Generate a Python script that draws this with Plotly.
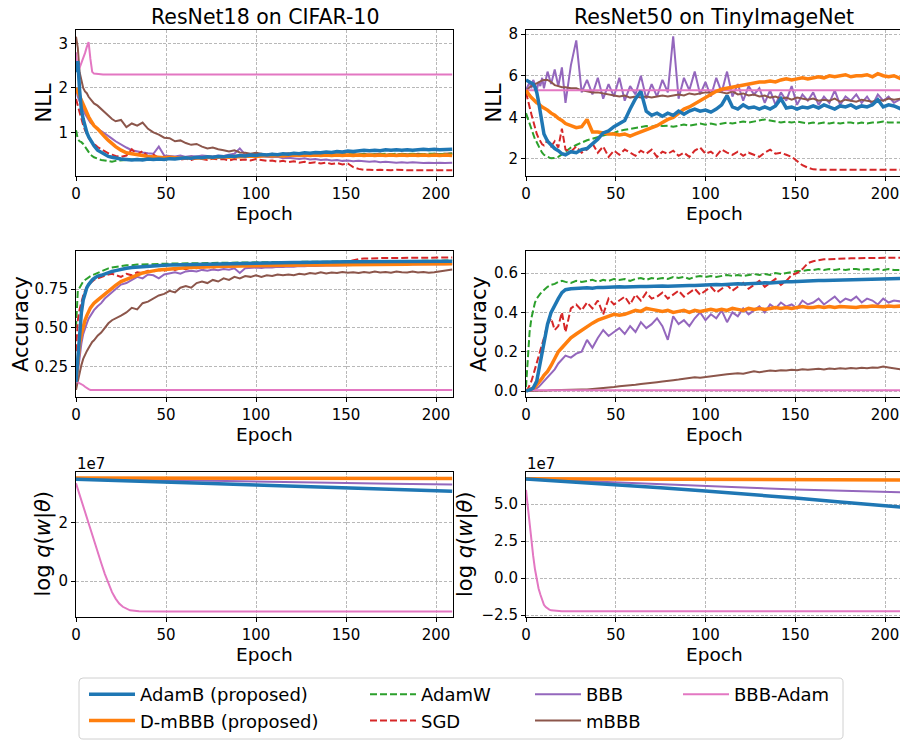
import plotly.graph_objects as go

W, H = 900, 740

# ---------------- data ----------------
epochs = [0, 1, 2, 3, 4, 5, 6, 7, 8, 9, 10,
          12, 14, 16, 18, 20, 22,
          25, 28, 31, 34, 37, 40, 43, 46, 49,
          52, 55, 58, 61, 64, 67, 70, 73, 76,
          79, 82, 85, 88, 91, 94, 97, 100, 103,
          106, 109, 112, 115, 118, 121, 124, 127, 130,
          133, 136, 139, 142, 145, 148, 151, 154, 157,
          160, 163, 166, 169, 172, 175, 178, 181, 184,
          187, 190, 193, 196, 199, 202, 205, 209]

# ResNet18 on CIFAR-10 : NLL
c10_nll_adamb = [2.35, 2.6, 1.95, 1.5, 1.3, 1.12, 1.0, 0.9, 0.82, 0.75, 0.7,
                 0.6, 0.55, 0.5, 0.46, 0.44, 0.42,
                 0.4, 0.39, 0.38, 0.39, 0.38, 0.4, 0.39, 0.4, 0.39,
                 0.41, 0.4, 0.42, 0.43, 0.42, 0.44, 0.43, 0.45, 0.44,
                 0.46, 0.45, 0.47, 0.46, 0.48, 0.47, 0.49, 0.48, 0.5,
                 0.49, 0.51, 0.5, 0.52, 0.51, 0.53, 0.52, 0.54, 0.53,
                 0.55, 0.54, 0.56, 0.55, 0.57, 0.56, 0.58, 0.57, 0.59,
                 0.6, 0.59, 0.6, 0.59, 0.61, 0.6, 0.61, 0.6, 0.61,
                 0.6, 0.61, 0.62, 0.61, 0.62, 0.61, 0.62, 0.62]
c10_nll_dmbbb = [2.0, 1.9, 1.8, 1.73, 1.65, 1.52, 1.43, 1.35, 1.28, 1.2, 1.15,
                 1.08, 0.98, 0.9, 0.82, 0.74, 0.68,
                 0.6, 0.54, 0.52, 0.49, 0.48, 0.46, 0.45, 0.44, 0.43,
                 0.44, 0.43, 0.42, 0.43, 0.42, 0.43, 0.42, 0.44, 0.43,
                 0.44, 0.45, 0.44, 0.46, 0.45, 0.46, 0.47, 0.46, 0.47,
                 0.48, 0.47, 0.48, 0.47, 0.48, 0.49, 0.48, 0.49, 0.48,
                 0.49, 0.48, 0.49, 0.48, 0.49, 0.48, 0.49, 0.48, 0.49,
                 0.48, 0.49, 0.48, 0.49, 0.48, 0.49, 0.48, 0.49, 0.48,
                 0.49, 0.48, 0.49, 0.48, 0.49, 0.48, 0.49, 0.48]
c10_nll_adamw = [1.05, 0.85, 0.8, 0.78, 0.74, 0.68, 0.6, 0.55, 0.5, 0.47, 0.44,
                 0.41, 0.38, 0.37, 0.35, 0.34, 0.36,
                 0.37, 0.38, 0.39, 0.38, 0.4, 0.39, 0.4, 0.41, 0.4,
                 0.41, 0.42, 0.41, 0.43, 0.42, 0.43, 0.44, 0.43, 0.44,
                 0.45, 0.44, 0.45, 0.46, 0.45, 0.46, 0.47, 0.46, 0.47,
                 0.47, 0.48, 0.47, 0.48, 0.48, 0.49, 0.48, 0.49, 0.49,
                 0.49, 0.5, 0.49, 0.5, 0.5, 0.5, 0.51, 0.5, 0.51,
                 0.51, 0.5, 0.51, 0.51, 0.52, 0.51, 0.52, 0.51, 0.52,
                 0.52, 0.51, 0.52, 0.52, 0.52, 0.51, 0.52, 0.52]
c10_nll_sgd = [1.75, 1.6, 1.4, 1.28, 1.16, 1.05, 0.95, 0.88, 0.82, 0.78, 0.74,
               0.67, 0.62, 0.57, 0.53, 0.5, 0.47,
               0.45, 0.48, 0.62, 0.5, 0.58, 0.46, 0.5, 0.43, 0.45,
               0.4, 0.42, 0.39, 0.41, 0.38, 0.42, 0.4, 0.38, 0.41,
               0.39, 0.4, 0.37, 0.4, 0.38, 0.39, 0.37, 0.4, 0.38,
               0.36, 0.37, 0.34, 0.36, 0.33, 0.35, 0.32, 0.34, 0.31,
               0.33, 0.3, 0.32, 0.29, 0.31, 0.28, 0.3, 0.22, 0.18,
               0.16, 0.16, 0.15, 0.16, 0.15, 0.15, 0.16, 0.15, 0.15,
               0.15, 0.15, 0.16, 0.15, 0.15, 0.15, 0.15, 0.15]
c10_nll_bbb = [2.0, 1.8, 1.7, 1.6, 1.5, 1.42, 1.35, 1.28, 1.22, 1.18, 1.14,
               1.08, 1.03, 0.98, 0.92, 0.86, 0.8,
               0.72, 0.66, 0.6, 0.57, 0.55, 0.53, 0.52, 0.68, 0.48,
               0.47, 0.46, 0.48, 0.45, 0.47, 0.46, 0.48, 0.47, 0.46,
               0.48, 0.47, 0.5, 0.52, 0.64, 0.5, 0.48, 0.47, 0.46,
               0.45, 0.44, 0.45, 0.42, 0.43, 0.41, 0.4, 0.42, 0.39,
               0.4, 0.38, 0.39, 0.37, 0.38, 0.36, 0.37, 0.35, 0.36,
               0.35, 0.34, 0.35, 0.33, 0.34, 0.33, 0.32, 0.33, 0.32,
               0.33, 0.32, 0.31, 0.32, 0.31, 0.32, 0.31, 0.32]
c10_nll_mbbb = [3.15, 2.9, 2.35, 2.15, 2.0, 1.92, 1.88, 1.8, 1.75, 1.7, 1.65,
                1.6, 1.52, 1.45, 1.38, 1.3, 1.25,
                1.28, 1.12, 1.2, 1.15, 1.22, 1.08, 1.0, 0.95, 0.88,
                0.87, 0.8, 0.82, 0.76, 0.72, 0.74, 0.68, 0.64, 0.66,
                0.62, 0.6, 0.57, 0.6, 0.55, 0.54, 0.52, 0.54, 0.52,
                0.5, 0.52, 0.49, 0.51, 0.53, 0.5, 0.51, 0.5, 0.52,
                0.5, 0.51, 0.5, 0.52, 0.5, 0.51, 0.5, 0.51, 0.5,
                0.52, 0.5, 0.51, 0.52, 0.5, 0.51, 0.5, 0.52, 0.51,
                0.5, 0.52, 0.51, 0.5, 0.52, 0.51, 0.52, 0.53]
c10_nll_bbbadam_epochs = [0, 1, 2, 3, 4, 5, 6, 7, 8, 9, 10, 12, 15, 209]
c10_nll_bbbadam = [2.8, 2.4, 2.45, 2.55, 2.65, 2.78, 2.92, 3.03, 2.65, 2.36, 2.32, 2.31, 2.3, 2.3]

# ResNet18 on CIFAR-10 : Accuracy
c10_acc_adamb = [0.15, 0.3, 0.5, 0.6, 0.68, 0.73, 0.76, 0.78, 0.8, 0.81, 0.82,
                 0.835, 0.84, 0.85, 0.86, 0.865, 0.87,
                 0.88, 0.885, 0.89, 0.893, 0.897, 0.9, 0.902, 0.903, 0.905,
                 0.906, 0.907, 0.908, 0.909, 0.91, 0.911, 0.912, 0.912, 0.913,
                 0.914, 0.915, 0.915, 0.916, 0.917, 0.918, 0.918, 0.919, 0.92,
                 0.92, 0.921, 0.921, 0.922, 0.922, 0.923, 0.923, 0.924, 0.924,
                 0.925, 0.925, 0.925, 0.926, 0.926, 0.926, 0.927, 0.927, 0.927,
                 0.928, 0.928, 0.928, 0.928, 0.929, 0.929, 0.929, 0.929, 0.93,
                 0.93, 0.93, 0.93, 0.93, 0.93, 0.93, 0.93, 0.93]
c10_acc_dmbbb = [0.15, 0.28, 0.4, 0.46, 0.51, 0.55, 0.58, 0.61, 0.63, 0.645, 0.66,
                 0.68, 0.7, 0.72, 0.74, 0.76, 0.775,
                 0.8, 0.815, 0.83, 0.845, 0.855, 0.862, 0.87, 0.875, 0.878,
                 0.882, 0.885, 0.887, 0.889, 0.891, 0.893, 0.894, 0.895, 0.896,
                 0.897, 0.898, 0.899, 0.9, 0.9, 0.901, 0.902, 0.902, 0.903,
                 0.903, 0.904, 0.904, 0.905, 0.905, 0.906, 0.906, 0.907, 0.907,
                 0.907, 0.908, 0.908, 0.908, 0.909, 0.909, 0.909, 0.91, 0.91,
                 0.91, 0.91, 0.911, 0.911, 0.911, 0.912, 0.912, 0.912, 0.912,
                 0.913, 0.913, 0.913, 0.913, 0.914, 0.914, 0.914, 0.914]
c10_acc_adamw = [0.5, 0.74, 0.76, 0.78, 0.8, 0.81, 0.82, 0.83, 0.835, 0.84, 0.845,
                 0.86, 0.87, 0.88, 0.885, 0.89, 0.895,
                 0.9, 0.905, 0.905, 0.91, 0.91, 0.912, 0.913, 0.913, 0.915,
                 0.915, 0.916, 0.916, 0.917, 0.918, 0.918, 0.919, 0.919, 0.92,
                 0.92, 0.921, 0.921, 0.922, 0.922, 0.923, 0.923, 0.924, 0.924,
                 0.925, 0.925, 0.925, 0.926, 0.926, 0.926, 0.927, 0.927, 0.927,
                 0.928, 0.928, 0.928, 0.929, 0.929, 0.929, 0.93, 0.93, 0.93,
                 0.93, 0.931, 0.931, 0.931, 0.932, 0.932, 0.932, 0.933, 0.933,
                 0.933, 0.933, 0.934, 0.934, 0.934, 0.934, 0.935, 0.935]
c10_acc_sgd = [0.35, 0.55, 0.62, 0.67, 0.71, 0.74, 0.76, 0.78, 0.79, 0.8, 0.81,
               0.82, 0.83, 0.84, 0.845, 0.85, 0.84,
               0.83, 0.85, 0.84, 0.86, 0.855, 0.87, 0.865, 0.875, 0.87,
               0.88, 0.875, 0.885, 0.88, 0.89, 0.885, 0.89, 0.895, 0.89,
               0.895, 0.9, 0.895, 0.9, 0.905, 0.9, 0.905, 0.91, 0.905,
               0.91, 0.905, 0.91, 0.915, 0.91, 0.915, 0.91, 0.915, 0.92,
               0.915, 0.92, 0.915, 0.92, 0.925, 0.92, 0.93, 0.94, 0.945,
               0.948, 0.95, 0.95, 0.95, 0.952, 0.952, 0.952, 0.953, 0.953,
               0.953, 0.954, 0.954, 0.954, 0.955, 0.955, 0.955, 0.955]
c10_acc_bbb = [0.12, 0.22, 0.32, 0.4, 0.46, 0.5, 0.53, 0.56, 0.58, 0.6, 0.615,
               0.64, 0.66, 0.69, 0.71, 0.73, 0.75,
               0.78, 0.79, 0.81, 0.83, 0.82, 0.845, 0.84, 0.82, 0.845,
               0.855, 0.86, 0.85, 0.865, 0.87, 0.865, 0.875, 0.87, 0.878,
               0.872, 0.88, 0.876, 0.885, 0.855, 0.885, 0.888, 0.89, 0.888,
               0.892, 0.89, 0.895, 0.893, 0.897, 0.895, 0.9, 0.898, 0.902,
               0.9, 0.903, 0.902, 0.905, 0.904, 0.906, 0.905, 0.907, 0.906,
               0.908, 0.907, 0.909, 0.908, 0.91, 0.909, 0.911, 0.91, 0.911,
               0.911, 0.912, 0.911, 0.912, 0.912, 0.913, 0.912, 0.913]
c10_acc_mbbb = [0.1, 0.16, 0.22, 0.26, 0.3, 0.33, 0.35, 0.37, 0.39, 0.41, 0.42,
                0.45, 0.47, 0.5, 0.53, 0.55, 0.56,
                0.58, 0.6, 0.63, 0.62, 0.66, 0.67, 0.69, 0.71, 0.72,
                0.74, 0.73, 0.76, 0.77, 0.76, 0.79, 0.8, 0.79, 0.81,
                0.8, 0.82, 0.81, 0.83, 0.82, 0.835, 0.83, 0.84, 0.83,
                0.84, 0.835, 0.845, 0.84, 0.845, 0.84, 0.85, 0.845, 0.855,
                0.85, 0.86, 0.852, 0.858, 0.855, 0.862, 0.856, 0.86, 0.855,
                0.862, 0.856, 0.864, 0.858, 0.862, 0.856, 0.864, 0.86, 0.858,
                0.865, 0.858, 0.862, 0.856, 0.86, 0.866, 0.87, 0.878]
c10_acc_bbbadam_epochs = [0, 1, 2, 3, 4, 5, 6, 7, 8, 10, 209]
c10_acc_bbbadam = [0.155, 0.15, 0.14, 0.135, 0.13, 0.12, 0.11, 0.105, 0.1, 0.1, 0.1]

# ResNet18 on CIFAR-10 : log q(w|theta)
logq_epochs = [0, 25, 50, 75, 100, 125, 150, 175, 209]
c10_logq_adamb = [3.49e7, 3.45e7, 3.40e7, 3.345e7, 3.29e7, 3.245e7, 3.195e7, 3.145e7, 3.08e7]
c10_logq_dmbbb = [3.53e7, 3.53e7, 3.53e7, 3.525e7, 3.525e7, 3.52e7, 3.52e7, 3.52e7, 3.52e7]
c10_logq_bbb = [3.52e7, 3.49e7, 3.46e7, 3.435e7, 3.41e7, 3.385e7, 3.36e7, 3.335e7, 3.31e7]
c10_logq_bbbadam_epochs = [0, 2, 4, 6, 8, 10, 12, 14, 16, 18, 20, 22, 24, 26, 28, 30, 35, 40, 50, 209]
c10_logq_bbbadam = [3.35e7, 2.95e7, 2.55e7, 2.15e7, 1.75e7, 1.35e7, 1.0e7, 0.62e7, 0.25e7, -0.1e7,
                    -0.38e7, -0.6e7, -0.77e7, -0.88e7, -0.95e7, -1.0e7, -1.03e7, -1.04e7, -1.04e7, -1.04e7]

# ResNet50 on TinyImageNet : NLL
tin_nll_adamb = [5.8, 5.75, 5.72, 5.65, 5.6, 5.45, 5.2, 4.75, 4.2, 3.65, 3.2,
                 2.85, 2.65, 2.5, 2.4, 2.25, 2.2,
                 2.35, 2.3, 2.45, 2.5, 2.7, 2.95, 3.25, 3.35, 3.55,
                 3.7, 3.85, 4.4, 4.9, 5.25, 4.3, 4.1, 4.2, 4.05,
                 4.2, 4.1, 4.3, 4.15, 4.3, 4.4, 4.3, 4.35, 4.25,
                 4.4, 4.6, 5.05, 4.5, 4.4, 4.6, 4.45, 4.5, 4.4,
                 4.5, 4.4, 4.55, 4.9, 4.45, 4.5, 4.4, 4.5, 4.45,
                 4.55, 4.45, 4.6, 4.5, 4.4, 4.55, 4.5, 4.6, 4.45,
                 4.55, 4.5, 4.6, 4.85, 4.5, 4.6, 4.55, 4.4]
tin_nll_dmbbb = [5.3, 5.15, 5.05, 4.95, 4.85, 4.8, 4.7, 4.65, 4.55, 4.5, 4.45,
                 4.35, 4.2, 4.1, 3.95, 3.85, 3.7,
                 3.6, 3.5, 3.55, 3.9, 3.3, 3.3, 3.25, 3.2, 3.2,
                 3.15, 3.2, 3.1, 3.2, 3.3, 3.4, 3.5, 3.6, 3.75,
                 3.9, 4.0, 4.2, 4.4, 4.5, 4.65, 4.8, 4.95, 5.1,
                 5.25, 5.35, 5.4, 5.45, 5.5, 5.55, 5.6, 5.65, 5.7,
                 5.7, 5.75, 5.7, 5.8, 5.85, 5.8, 5.85, 5.9, 5.85,
                 5.9, 5.95, 5.9, 6.0, 5.95, 6.0, 6.05, 5.95, 6.0,
                 6.0, 6.05, 5.95, 6.1, 6.0, 5.95, 6.0, 5.85]
tin_nll_adamw = [4.2, 3.95, 3.7, 3.4, 3.15, 2.95, 2.8, 2.6, 2.45, 2.3, 2.2,
                 2.1, 2.03, 2.05, 2.1, 2.22, 2.35,
                 2.55, 2.67, 2.8, 2.9, 2.97, 3.05, 3.15, 3.2, 3.25,
                 3.35, 3.4, 3.45, 3.5, 3.55, 3.58, 3.55, 3.62, 3.58,
                 3.6, 3.55, 3.6, 3.65, 3.6, 3.65, 3.7, 3.65, 3.7,
                 3.65, 3.7, 3.75, 3.7, 3.75, 3.8, 3.75, 3.8, 3.85,
                 3.9, 3.85, 3.8, 3.75, 3.8, 3.75, 3.8, 3.75, 3.7,
                 3.75, 3.7, 3.75, 3.7, 3.75, 3.7, 3.75, 3.75, 3.7,
                 3.75, 3.7, 3.75, 3.75, 3.8, 3.75, 3.75, 3.75]
tin_nll_sgd = [5.2, 4.9, 4.5, 4.15, 3.8, 3.5, 3.2, 3.0, 2.85, 2.7, 2.65,
               2.9, 2.6, 2.85, 2.55, 3.45, 2.45,
               2.35, 2.6, 2.3, 2.45, 2.75, 2.3, 2.6, 2.1, 2.4,
               2.2, 2.45, 2.3, 2.15, 2.4, 2.25, 2.45, 2.1, 2.35,
               2.25, 2.4, 2.15, 2.3, 2.1, 2.4, 2.55, 2.25, 2.35,
               2.15, 2.45, 2.3, 2.2, 2.35, 2.15, 2.3, 2.2, 2.1,
               2.3, 2.45, 2.25, 2.3, 2.2, 2.1, 1.9, 1.7, 1.58,
               1.5, 1.48, 1.48, 1.48, 1.48, 1.48, 1.48, 1.48, 1.48,
               1.48, 1.48, 1.48, 1.48, 1.48, 1.48, 1.48, 1.48]
tin_nll_bbb = [5.3, 5.5, 5.7, 5.4, 5.8, 5.6, 5.3, 5.7, 5.5, 5.9, 5.4,
               6.2, 5.6, 6.3, 5.5, 6.4, 4.7,
               6.5, 7.7, 5.2, 5.8, 5.1, 5.9, 4.9, 5.6, 5.0,
               5.9, 4.8, 5.5, 5.1, 6.0, 4.9, 5.6, 5.0, 5.8,
               5.2, 7.9, 4.9, 5.9, 5.3, 6.2, 5.1, 5.7, 5.0,
               5.9, 5.2, 6.2, 5.0, 5.6, 4.8, 5.5, 5.1, 5.4,
               4.7, 5.3, 4.6, 5.2, 4.8, 5.5, 4.6, 5.1, 4.8,
               5.2, 4.6, 5.0, 4.7, 5.3, 4.6, 5.0, 4.8, 5.1,
               4.7, 5.0, 4.6, 5.1, 4.8, 5.0, 4.7, 4.9]
tin_nll_mbbb = [5.3, 5.35, 5.45, 5.5, 5.55, 5.6, 5.65, 5.7, 5.75, 5.78, 5.8,
                5.8, 5.7, 5.55, 5.5, 5.45, 5.45,
                5.4, 5.4, 5.3, 5.25, 5.2, 5.2, 5.15, 5.1, 5.05,
                5.0, 5.05, 4.95, 5.0, 4.95, 5.0, 4.95, 5.0, 5.05,
                5.0, 5.05, 5.1, 5.05, 5.15, 5.1, 5.15, 5.2, 5.2,
                5.25, 5.2, 5.15, 5.25, 5.1, 5.15, 5.05, 5.1, 5.0,
                5.05, 4.95, 5.0, 4.9, 4.95, 4.85, 4.95, 4.9, 4.85,
                4.9, 4.8, 4.85, 4.8, 4.9, 4.75, 4.85, 4.8, 4.75,
                4.85, 4.8, 4.75, 4.85, 4.8, 4.9, 4.85, 4.9]
tin_nll_bbbadam_epochs = [0, 209]
tin_nll_bbbadam = [5.3, 5.3]

# ResNet50 on TinyImageNet : Accuracy
tin_acc_adamb = [0.0, 0.002, 0.005, 0.01, 0.015, 0.03, 0.05, 0.1, 0.15, 0.2, 0.25,
                 0.34, 0.4, 0.44, 0.47, 0.5, 0.515,
                 0.52, 0.522, 0.524, 0.525, 0.523, 0.527, 0.526, 0.528, 0.527,
                 0.53, 0.529, 0.531, 0.53, 0.532, 0.531, 0.533, 0.532, 0.534,
                 0.533, 0.535, 0.534, 0.536, 0.537, 0.536, 0.538, 0.54, 0.539,
                 0.541, 0.54, 0.543, 0.542, 0.545, 0.544, 0.546, 0.547, 0.548,
                 0.55, 0.549, 0.552, 0.553, 0.555, 0.556, 0.558, 0.559, 0.56,
                 0.561, 0.562, 0.562, 0.563, 0.564, 0.564, 0.565, 0.566, 0.566,
                 0.567, 0.568, 0.568, 0.569, 0.57, 0.57, 0.571, 0.572]
tin_acc_dmbbb = [0.0, 0.003, 0.006, 0.01, 0.015, 0.02, 0.03, 0.04, 0.05, 0.065, 0.08,
                 0.1, 0.13, 0.17, 0.2, 0.22, 0.24,
                 0.27, 0.29, 0.31, 0.33, 0.345, 0.36, 0.37, 0.38, 0.39,
                 0.385, 0.39, 0.4, 0.41, 0.405, 0.42, 0.415, 0.41, 0.405,
                 0.41, 0.4, 0.405, 0.41, 0.4, 0.41, 0.405, 0.41, 0.415,
                 0.41, 0.415, 0.41, 0.42, 0.415, 0.41, 0.42, 0.415, 0.42,
                 0.415, 0.42, 0.425, 0.42, 0.425, 0.42, 0.425, 0.43, 0.425,
                 0.425, 0.43, 0.425, 0.43, 0.425, 0.43, 0.428, 0.43, 0.425,
                 0.43, 0.428, 0.432, 0.43, 0.428, 0.432, 0.43, 0.432]
tin_acc_adamw = [0.02, 0.18, 0.3, 0.37, 0.42, 0.45, 0.47, 0.485, 0.495, 0.505, 0.515,
                 0.53, 0.54, 0.545, 0.555, 0.56, 0.555,
                 0.55, 0.56, 0.555, 0.56, 0.565, 0.555, 0.565, 0.56, 0.57,
                 0.565, 0.57, 0.56, 0.57, 0.575, 0.565, 0.575, 0.57, 0.575,
                 0.57, 0.58, 0.575, 0.58, 0.57, 0.58, 0.585, 0.58, 0.585,
                 0.58, 0.585, 0.59, 0.585, 0.59, 0.585, 0.59, 0.595, 0.59,
                 0.595, 0.59, 0.6, 0.595, 0.6, 0.605, 0.61, 0.61, 0.615,
                 0.615, 0.62, 0.615, 0.62, 0.615, 0.62, 0.615, 0.62, 0.62,
                 0.615, 0.62, 0.615, 0.62, 0.615, 0.62, 0.615, 0.615]
tin_acc_sgd = [0.0, 0.01, 0.03, 0.05, 0.08, 0.11, 0.14, 0.17, 0.2, 0.23, 0.27,
               0.34, 0.37, 0.31, 0.33, 0.4, 0.3,
               0.42, 0.44, 0.41, 0.45, 0.42, 0.46, 0.39, 0.47, 0.44,
               0.46, 0.48, 0.44, 0.49, 0.46, 0.5, 0.47, 0.48, 0.5,
               0.47, 0.49, 0.51, 0.48, 0.5, 0.52, 0.49, 0.51, 0.53,
               0.5, 0.52, 0.54, 0.51, 0.53, 0.55, 0.52, 0.54, 0.56,
               0.53, 0.55, 0.57, 0.54, 0.56, 0.59, 0.6, 0.62, 0.65,
               0.66, 0.665, 0.67, 0.67, 0.672, 0.673, 0.674, 0.675, 0.675,
               0.676, 0.676, 0.677, 0.677, 0.678, 0.678, 0.678, 0.678]
tin_acc_bbb = [0.0, 0.0, 0.002, 0.004, 0.006, 0.01, 0.015, 0.02, 0.03, 0.04, 0.05,
               0.07, 0.09, 0.11, 0.14, 0.16, 0.18,
               0.17, 0.19, 0.2, 0.26, 0.22, 0.27, 0.31, 0.28, 0.3,
               0.32, 0.29, 0.33, 0.3, 0.35, 0.32, 0.34, 0.37, 0.33,
               0.26, 0.38, 0.34, 0.36, 0.33, 0.37, 0.4, 0.36, 0.39,
               0.37, 0.41, 0.35, 0.4, 0.38, 0.42, 0.39, 0.41, 0.43,
               0.4, 0.44, 0.42, 0.45, 0.43, 0.44, 0.42, 0.46, 0.44,
               0.45, 0.47, 0.44, 0.46, 0.48, 0.45, 0.47, 0.46, 0.48,
               0.45, 0.47, 0.46, 0.44, 0.47, 0.45, 0.46, 0.455]
tin_acc_mbbb = [0.0, 0.0, 0.001, 0.001, 0.001, 0.002, 0.002, 0.002, 0.003, 0.003, 0.003,
                0.003, 0.004, 0.004, 0.004, 0.005, 0.005,
                0.006, 0.006, 0.007, 0.008, 0.01, 0.012, 0.015, 0.018, 0.02,
                0.024, 0.026, 0.03, 0.032, 0.036, 0.04, 0.042, 0.045, 0.048,
                0.05, 0.055, 0.058, 0.062, 0.065, 0.07, 0.068, 0.072, 0.075,
                0.08, 0.082, 0.085, 0.088, 0.09, 0.088, 0.095, 0.1, 0.096,
                0.1, 0.104, 0.102, 0.106, 0.104, 0.108, 0.105, 0.11, 0.108,
                0.11, 0.113, 0.11, 0.114, 0.112, 0.116, 0.113, 0.117, 0.115,
                0.118, 0.116, 0.12, 0.118, 0.124, 0.12, 0.115, 0.11]
tin_acc_bbbadam_epochs = [0, 209]
tin_acc_bbbadam = [0.004, 0.004]

# ResNet50 on TinyImageNet : log q(w|theta)
tin_logq_adamb = [6.68e7, 6.5e7, 6.3e7, 6.09e7, 5.88e7, 5.65e7, 5.4e7, 5.13e7, 4.8e7]
tin_logq_dmbbb = [6.7e7, 6.69e7, 6.68e7, 6.67e7, 6.66e7, 6.65e7, 6.64e7, 6.63e7, 6.62e7]
tin_logq_bbb = [6.7e7, 6.57e7, 6.45e7, 6.32e7, 6.2e7, 6.09e7, 5.98e7, 5.89e7, 5.79e7]
tin_logq_bbbadam_epochs = [0, 1, 2, 3, 4, 5, 6, 7, 8, 9, 10, 11, 12, 13, 14, 16, 18, 20, 209]
tin_logq_bbbadam = [5.95e7, 4.8e7, 3.5e7, 2.4e7, 1.5e7, 0.6e7, -0.1e7, -0.7e7, -1.1e7, -1.5e7,
                    -1.8e7, -1.95e7, -2.05e7, -2.12e7, -2.17e7, -2.2e7, -2.22e7, -2.23e7, -2.23e7]

# ---------------- styles ----------------
STYLE = {
    'AdamB (proposed)': dict(color='#1f77b4', width=3.5, dash='solid'),
    'D-mBBB (proposed)': dict(color='#ff7f0e', width=3.5, dash='solid'),
    'AdamW': dict(color='#2ca02c', width=2, dash='7px,3px'),
    'SGD': dict(color='#d62728', width=2, dash='7px,3px'),
    'BBB': dict(color='#9467bd', width=2, dash='solid'),
    'mBBB': dict(color='#8c564b', width=2, dash='solid'),
    'BBB-Adam': dict(color='#e377c2', width=2, dash='solid'),
}
LEGEND_OF = {'AdamB (proposed)': 'legend', 'D-mBBB (proposed)': 'legend',
             'AdamW': 'legend2', 'SGD': 'legend2',
             'BBB': 'legend3', 'mBBB': 'legend3', 'BBB-Adam': 'legend4'}
RANK = {'AdamB (proposed)': 1, 'D-mBBB (proposed)': 2, 'AdamW': 1, 'SGD': 2,
        'BBB': 1, 'mBBB': 2, 'BBB-Adam': 1}
DRAW_ORDER = ['BBB', 'mBBB', 'BBB-Adam', 'AdamW', 'SGD', 'D-mBBB (proposed)', 'AdamB (proposed)']

panels = [
    ('x', 'y', {
        'AdamB (proposed)': (epochs, c10_nll_adamb), 'D-mBBB (proposed)': (epochs, c10_nll_dmbbb),
        'AdamW': (epochs, c10_nll_adamw), 'SGD': (epochs, c10_nll_sgd),
        'BBB': (epochs, c10_nll_bbb), 'mBBB': (epochs, c10_nll_mbbb),
        'BBB-Adam': (c10_nll_bbbadam_epochs, c10_nll_bbbadam)}),
    ('x2', 'y2', {
        'AdamB (proposed)': (epochs, tin_nll_adamb), 'D-mBBB (proposed)': (epochs, tin_nll_dmbbb),
        'AdamW': (epochs, tin_nll_adamw), 'SGD': (epochs, tin_nll_sgd),
        'BBB': (epochs, tin_nll_bbb), 'mBBB': (epochs, tin_nll_mbbb),
        'BBB-Adam': (tin_nll_bbbadam_epochs, tin_nll_bbbadam)}),
    ('x3', 'y3', {
        'AdamB (proposed)': (epochs, c10_acc_adamb), 'D-mBBB (proposed)': (epochs, c10_acc_dmbbb),
        'AdamW': (epochs, c10_acc_adamw), 'SGD': (epochs, c10_acc_sgd),
        'BBB': (epochs, c10_acc_bbb), 'mBBB': (epochs, c10_acc_mbbb),
        'BBB-Adam': (c10_acc_bbbadam_epochs, c10_acc_bbbadam)}),
    ('x4', 'y4', {
        'AdamB (proposed)': (epochs, tin_acc_adamb), 'D-mBBB (proposed)': (epochs, tin_acc_dmbbb),
        'AdamW': (epochs, tin_acc_adamw), 'SGD': (epochs, tin_acc_sgd),
        'BBB': (epochs, tin_acc_bbb), 'mBBB': (epochs, tin_acc_mbbb),
        'BBB-Adam': (tin_acc_bbbadam_epochs, tin_acc_bbbadam)}),
    ('x5', 'y5', {
        'AdamB (proposed)': (logq_epochs, c10_logq_adamb), 'D-mBBB (proposed)': (logq_epochs, c10_logq_dmbbb),
        'BBB': (logq_epochs, c10_logq_bbb),
        'BBB-Adam': (c10_logq_bbbadam_epochs, c10_logq_bbbadam)}),
    ('x6', 'y6', {
        'AdamB (proposed)': (logq_epochs, tin_logq_adamb), 'D-mBBB (proposed)': (logq_epochs, tin_logq_dmbbb),
        'BBB': (logq_epochs, tin_logq_bbb),
        'BBB-Adam': (tin_logq_bbbadam_epochs, tin_logq_bbbadam)}),
]

fig = go.Figure()
for i, (xa, ya, series) in enumerate(panels):
    for name in DRAW_ORDER:
        if name not in series:
            continue
        xs, ys = series[name]
        st = STYLE[name]
        fig.add_trace(go.Scatter(
            x=xs, y=ys, mode='lines', name=name, xaxis=xa, yaxis=ya,
            line=dict(color=st['color'], width=st['width'], dash=st['dash']),
            showlegend=(i == 0), legend=LEGEND_OF[name], legendrank=RANK[name],
            legendgroup=name, hoverinfo='skip'))

FONT = 'DejaVu Sans, Verdana, sans-serif'


def px_x(p):
    return p / W


def px_y(p):
    return 1 - p / H


L0, L1 = 76, 453
R0, R1 = 526, 900
rows = [(30, 176), (251, 396.7), (471.7, 616.7)]
xdom_l = [px_x(L0), px_x(L1)]
xdom_r = [px_x(R0), 1.0]

axis_common = dict(showline=True, mirror=True, linecolor='black', linewidth=1.1,
                   ticks='outside', ticklen=4, tickwidth=1.1, tickcolor='black',
                   showgrid=True, gridcolor='#b8b8b8', gridwidth=0.8, griddash='3px,1.6px',
                   zeroline=False, automargin=False,
                   tickfont=dict(family=FONT, size=15, color='black'))

xticks = [0, 50, 100, 150, 200]
yspecs = {
    'y': (rows[0], [0.02, 3.3], [1, 2, 3], ['1', '2', '3']),
    'y2': (rows[0], [1.18, 8.2], [2, 4, 6, 8], ['2', '4', '6', '8']),
    'y3': (rows[1], [0.056, 0.997], [0.25, 0.5, 0.75], ['0.25', '0.50', '0.75']),
    'y4': (rows[1], [-0.029, 0.712], [0.0, 0.2, 0.4, 0.6], ['0.0', '0.2', '0.4', '0.6']),
    'y5': (rows[2], [-1.22e7, 3.75e7], [0, 2e7], ['0', '2']),
    'y6': (rows[2], [-2.6e7, 7.18e7], [-2.5e7, 0, 2.5e7, 5e7], ['\u22122.5', '0.0', '2.5', '5.0']),
}
layout_axes = {}
for k, (xa, ya) in enumerate([('xaxis', 'yaxis'), ('xaxis2', 'yaxis2'), ('xaxis3', 'yaxis3'),
                              ('xaxis4', 'yaxis4'), ('xaxis5', 'yaxis5'), ('xaxis6', 'yaxis6')]):
    left = (k % 2 == 0)
    yid = 'y' if k == 0 else 'y%d' % (k + 1)
    xid = 'x' if k == 0 else 'x%d' % (k + 1)
    (top, bot), yr, tv, tt = yspecs[yid]
    layout_axes[xa] = dict(axis_common, domain=xdom_l if left else xdom_r,
                           range=[0, (L1 - L0) / 1.8] if left else [0, (R1 - R0) / 1.795],
                           tickvals=xticks, ticktext=[str(t) for t in xticks], anchor=yid)
    layout_axes[ya] = dict(axis_common, domain=[px_y(bot), px_y(top)], range=yr,
                           tickvals=tv, ticktext=tt, anchor=xid)

fig.update_layout(template='none')
fig.update_layout(**layout_axes)

ann = []
# titles
ann.append(dict(text='ResNet18 on CIFAR-10', x=px_x(264.5), y=px_y(17), font=dict(size=20.5)))
ann.append(dict(text='ResNet50 on TinyImageNet', x=px_x(714), y=px_y(17), font=dict(size=20.5)))
# x labels
for yy in (213.5, 434.5, 654.5):
    ann.append(dict(text='Epoch', x=px_x(264.5), y=px_y(yy), font=dict(size=18.5)))
    ann.append(dict(text='Epoch', x=px_x(714), y=px_y(yy), font=dict(size=18.5)))
# y labels
ylab = [('NLL', 43.5, 103), ('NLL', 493.5, 103),
        ('Accuracy', 21, 324), ('Accuracy', 479, 324),
        ('log <i>q</i>(<i>w</i>|<i>\u03b8</i>)', 42.5, 544), ('log <i>q</i>(<i>w</i>|<i>\u03b8</i>)', 465, 544)]
for t, xx, yy in ylab:
    ann.append(dict(text=t, x=px_x(xx), y=px_y(yy), textangle=-90, font=dict(size=21)))
# offset labels
ann.append(dict(text='1e7', x=px_x(76), y=px_y(464), xanchor='left', font=dict(size=15)))
ann.append(dict(text='1e7', x=px_x(526), y=px_y(464), xanchor='left', font=dict(size=15)))

for a in ann:
    a.setdefault('xanchor', 'center')
    a.update(xref='paper', yref='paper', yanchor='middle', showarrow=False, borderpad=0)
    a['font'] = dict(family=FONT, color='black', size=a['font']['size'])

# legend frame (rounded)
bx0, bx1, by0, by1, r = 79, 843, 678, 739, 4


def P(x, y):
    return '%.5f,%.5f' % (px_x(x), px_y(y))


path = ('M ' + P(bx0 + r, by0) + ' L ' + P(bx1 - r, by0) + ' Q ' + P(bx1, by0) + ' ' + P(bx1, by0 + r) +
        ' L ' + P(bx1, by1 - r) + ' Q ' + P(bx1, by1) + ' ' + P(bx1 - r, by1) +
        ' L ' + P(bx0 + r, by1) + ' Q ' + P(bx0, by1) + ' ' + P(bx0, by1 - r) +
        ' L ' + P(bx0, by0 + r) + ' Q ' + P(bx0, by0) + ' ' + P(bx0 + r, by0) + ' Z')

leg_common = dict(orientation='v', xanchor='left', yanchor='top', bgcolor='rgba(0,0,0,0)',
                  borderwidth=0, font=dict(family=FONT, size=18, color='black'),
                  itemwidth=46, tracegroupgap=2.4, traceorder='normal')
leg_y = px_y(676)
fig.update_layout(
    legend=dict(leg_common, x=px_x(84), y=leg_y),
    legend2=dict(leg_common, x=px_x(365), y=leg_y),
    legend3=dict(leg_common, x=px_x(530), y=leg_y),
    legend4=dict(leg_common, x=px_x(678), y=leg_y),
)

fig.update_layout(
    width=W, height=H, margin=dict(l=0, r=0, t=0, b=0, autoexpand=False),
    paper_bgcolor='white', plot_bgcolor='white',
    font=dict(family=FONT, color='black'),
    annotations=ann,
    shapes=[dict(type='path', path=path, xref='paper', yref='paper',
                 line=dict(color='#d0d0d0', width=1), fillcolor='rgba(255,255,255,0.8)', layer='below')],
)

fig.write_html('out.html', config={'displayModeBar': False},
               post_script="document.body.style.margin='0';document.body.style.overflow='hidden';")
